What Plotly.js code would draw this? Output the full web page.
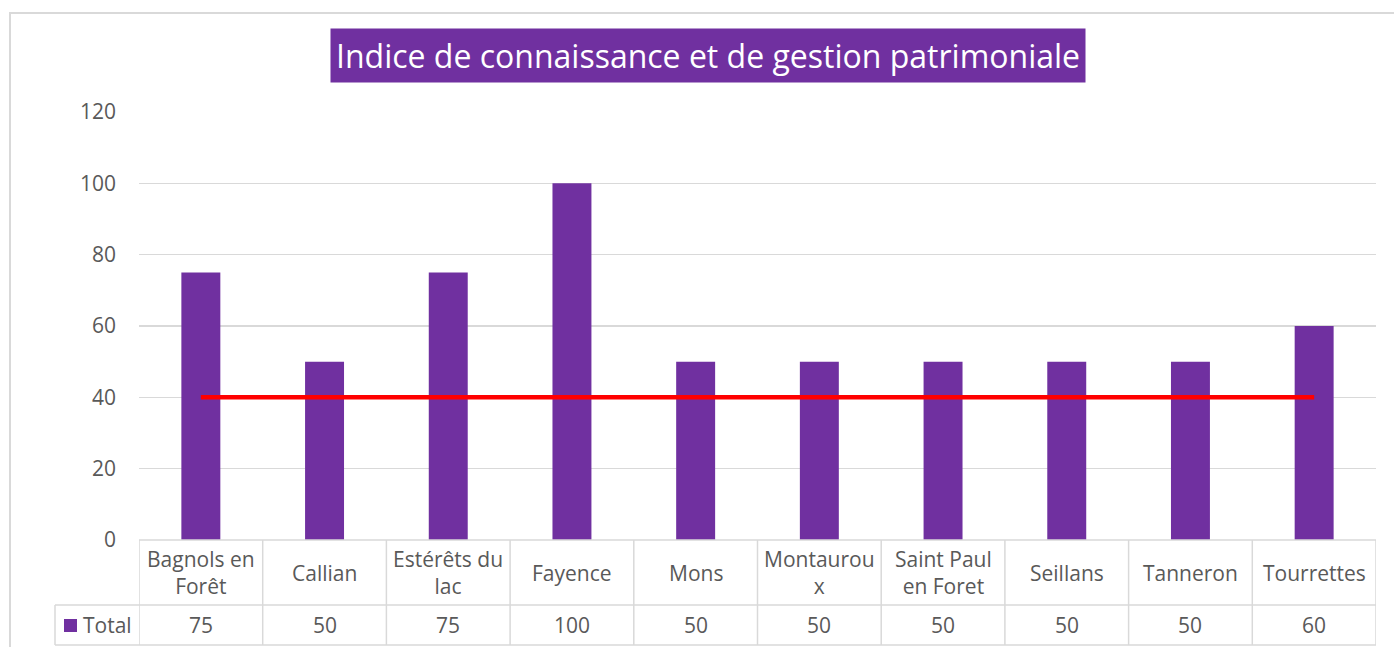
<!DOCTYPE html>
<html>
<head>
<meta charset="utf-8">
<script src="https://cdn.plot.ly/plotly-3.0.1.min.js"></script>
<style>html,body{margin:0;padding:0;background:#fff;}</style>
</head>
<body>
<div id="chart" style="width:1394px;height:647px;"></div>
<script>
const categories = ["Bagnols en Forêt","Callian","Estérêts du lac","Fayence","Mons","Montauroux","Saint Paul en Foret","Seillans","Tanneron","Tourrettes"];
const categoryLabels = ["Bagnols en<br>Forêt","Callian","Estérêts du<br>lac","Fayence","Mons","Montaurou<br>x","Saint Paul<br>en Foret","Seillans","Tanneron","Tourrettes"];
const totals = [75,50,75,100,50,50,50,50,50,60];
const threshold = [40,40,40,40,40,40,40,40,40,40];
const seriesName = "Total";
const chartTitle = "Indice de connaissance et de gestion patrimoniale";
const yTicks = [0,20,40,60,80,100,120];

const W = 1394, H = 647;
const L = 139, R = 1376, T = 112, B = 540;
const px = x => (x - L) / (R - L);
const py = y => (B - y) / (B - T);

const FONT = "Open Sans, Noto Sans, sans-serif";
const TXT = "#595959";
const GRID = "#d9d9d9";
const PURPLE = "#7030A0";

const shapes = [];
const annotations = [];

// outer frame
shapes.push({type:'rect', xref:'paper', yref:'paper', x0:px(10), x1:px(1400), y0:py(13), y1:py(652), line:{color:GRID, width:2}, fillcolor:'rgba(0,0,0,0)', layer:'below'});

// table grid
const row1 = py(605), row2 = py(645);
for (let i = 0; i <= categories.length; i++) {
  shapes.push({type:'line', xref:'x', yref:'paper', x0:i-0.5, x1:i-0.5, y0:0, y1:row2, line:{color:GRID, width:1.5}});
}
shapes.push({type:'line', xref:'paper', yref:'paper', x0:0, x1:1, y0:0, y1:0, line:{color:GRID, width:1.5}});
shapes.push({type:'line', xref:'paper', yref:'paper', x0:px(55), x1:1, y0:row1, y1:row1, line:{color:GRID, width:1.5}});
shapes.push({type:'line', xref:'paper', yref:'paper', x0:px(55), x1:1, y0:row2, y1:row2, line:{color:GRID, width:1.5}});
shapes.push({type:'line', xref:'paper', yref:'paper', x0:px(55), x1:px(55), y0:row1, y1:row2, line:{color:GRID, width:1.5}});
// legend key
shapes.push({type:'rect', xref:'paper', yref:'paper', x0:px(64), x1:px(77), y0:py(632), y1:py(619), line:{width:0}, fillcolor:PURPLE});

categories.forEach((c, i) => {
  annotations.push({xref:'x', yref:'paper', x:i, y:(0 + row1)/2, text:categoryLabels[i], showarrow:false, xanchor:'center', yanchor:'middle', font:{family:FONT, size:21, color:TXT}});
  annotations.push({xref:'x', yref:'paper', x:i, y:(row1 + row2)/2, text:String(totals[i]), showarrow:false, xanchor:'center', yanchor:'middle', font:{family:FONT, size:21, color:TXT}});
});
annotations.push({xref:'paper', yref:'paper', x:px(81), y:(row1 + row2)/2, text:seriesName, showarrow:false, xanchor:'left', yanchor:'middle', font:{family:FONT, size:21, color:TXT}});

// title box
annotations.push({xref:'paper', yref:'paper', x:px(708), y:py(56), text:chartTitle, showarrow:false, xanchor:'center', yanchor:'middle', bgcolor:PURPLE, borderpad:5, font:{family:FONT, size:32, color:'#ffffff'}});

const data = [
  {type:'bar', x:categories, y:totals, name:seriesName, marker:{color:PURPLE}, hoverinfo:'x+y'},
  {type:'scatter', mode:'lines', x:categories, y:threshold, line:{color:'#FF0000', width:4.5}, hoverinfo:'y', showlegend:false}
];

const layout = {
  width:W, height:H,
  margin:{l:L, r:W-R, t:T, b:H-B, pad:0},
  paper_bgcolor:'#ffffff', plot_bgcolor:'#ffffff',
  showlegend:false,
  bargap:0.685,
  xaxis:{type:'category', categoryorder:'array', categoryarray:categories, range:[-0.5, categories.length-0.5], showticklabels:false, showgrid:false, zeroline:false, showline:false, fixedrange:true},
  yaxis:{range:[0,120], tickvals:yTicks, showgrid:true, gridcolor:GRID, gridwidth:1.5, zeroline:false, showline:false, ticks:'', ticklabelstandoff:22, tickfont:{family:FONT, size:21, color:TXT}, fixedrange:true},
  shapes:shapes,
  annotations:annotations
};

Plotly.newPlot('chart', data, layout, {displayModeBar:false, staticPlot:true});
</script>
</body>
</html>
